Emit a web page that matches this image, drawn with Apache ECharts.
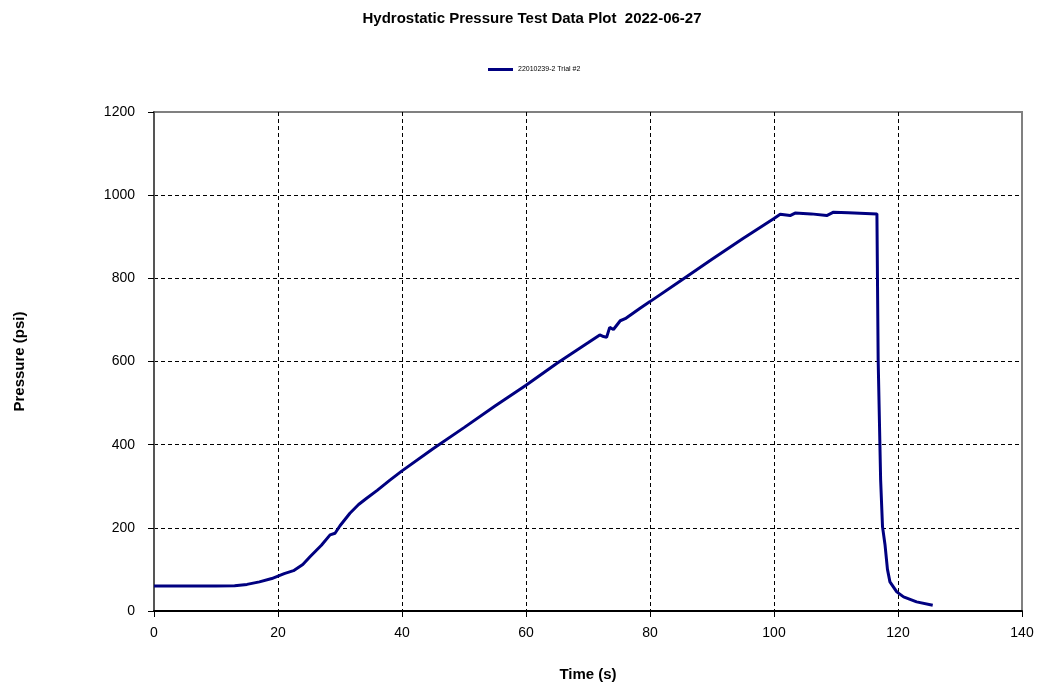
<!DOCTYPE html>
<html>
<head>
<meta charset="utf-8">
<script src="https://cdn.jsdelivr.net/npm/echarts@6/dist/echarts.min.js"></script>
<style>html,body{margin:0;padding:0;background:#fff}#c{width:1044px;height:691px}</style>
</head>
<body>
<div id="c"></div>
<script>
var chartTitle = 'Hydrostatic Pressure Test Data Plot  2022-06-27';
var seriesName = '22010239-2 Trial #2';
var timeS = [0,5,10,13,15,17,19,20,21,22.5,24,25.2,27,28.4,29.2,30,31.6,33,34.3,36,38,40,45,50,55,60,65,70,71.9,72.5,73,73.5,74.1,75.2,76,78.4,80,85,90,95,100,101,102.6,103.4,106,108.5,109.6,112,116.6,116.8,117.2,117.5,117.9,118.3,118.7,119.8,120.9,123,125.6];
var pressurePsi = [60,60,60,61,64,70,78,84,90,97,112,131,158,183,187,205,235,256,271,290,314,337,390,441,493,543,596,645,664,660,658,682,677,698,703,728,744,795,846,896,944,954,951,957,955,951,959,958,955,604,315,203,160,100,70,46,34,22,14];
var xTicks = [0,20,40,60,80,100,120,140];
var yTicks = [0,200,400,600,800,1000,1200];

var pts = timeS.map(function(t,i){return [t, pressurePsi[i]];});
var chart = echarts.init(document.getElementById('c'));
var ff = '"Liberation Sans", Arial, sans-serif';
chart.setOption({
  animation: false,
  title: {text: chartTitle, left: 527, top: 6, textAlign: 'center',
    textStyle: {fontFamily: ff, fontSize: 15, fontWeight: 'bold', color: '#000'}},
  legend: {data: [{name: seriesName, icon: 'rect'}], left: 488, top: 66, padding: 0, itemWidth: 25, itemHeight: 3, itemGap: 4,
    textStyle: {fontFamily: ff, fontSize: 7, color: '#000'}},
  grid: {left: 154, right: 22, top: 112, bottom: 80, show: true, borderColor: '#808080', borderWidth: 2},
  xAxis: {type: 'value', min: xTicks[0], max: xTicks[xTicks.length-1], interval: xTicks[1]-xTicks[0],
    name: 'Time (s)', nameLocation: 'middle', nameGap: 56,
    nameTextStyle: {fontFamily: ff, fontSize: 15, fontWeight: 'bold', color: '#000'},
    axisLine: {lineStyle: {color: '#000', width: 2}},
    axisTick: {show: true, length: 6, lineStyle: {color: '#000'}},
    axisLabel: {fontFamily: ff, fontSize: 14, color: '#000', margin: 15, formatter: function(v){return String(v);}},
    splitLine: {show: true, showMinLine: false, showMaxLine: false, lineStyle: {color: '#000', type: [4,3], width: 1}}},
  yAxis: {type: 'value', min: yTicks[0], max: yTicks[yTicks.length-1], interval: yTicks[1]-yTicks[0],
    name: 'Pressure (psi)', nameLocation: 'middle', nameGap: 127, nameRotate: 90,
    nameTextStyle: {fontFamily: ff, fontSize: 15, fontWeight: 'bold', color: '#000'},
    axisLine: {show: true, lineStyle: {color: '#555', width: 2}},
    axisTick: {show: true, length: 6, lineStyle: {color: '#000'}},
    axisLabel: {fontFamily: ff, fontSize: 14, color: '#000', margin: 19, formatter: function(v){return String(v);}},
    splitLine: {show: true, showMinLine: false, showMaxLine: false, lineStyle: {color: '#000', type: [4,3], width: 1}}},
  series: [{name: seriesName, type: 'line', data: pts, symbol: 'none', smooth: false,
    lineStyle: {color: '#000080', width: 3}, itemStyle: {color: '#000080'}}]
});
</script>
</body>
</html>
